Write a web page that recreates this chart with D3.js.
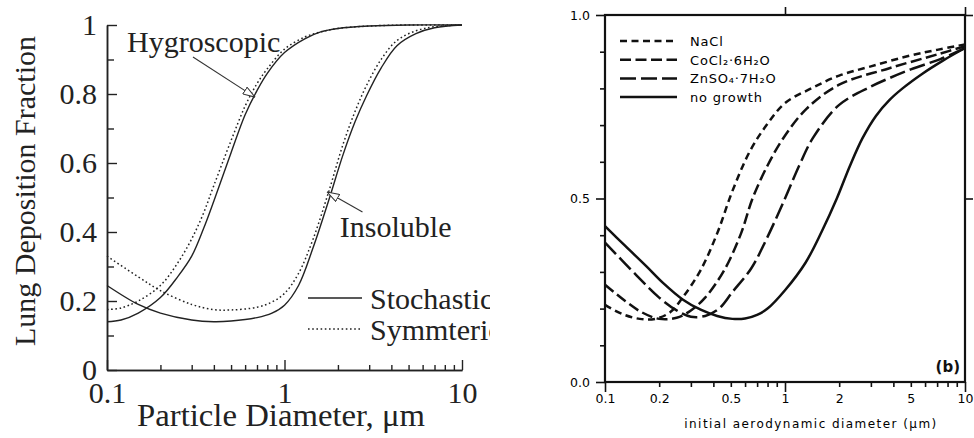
<!DOCTYPE html>
<html>
<head>
<meta charset="utf-8">
<script src="https://cdn.jsdelivr.net/npm/d3@7"></script>
<style>
  body { margin: 0; background: #fff; }
  svg { display: block; }
</style>
</head>
<body>
<div id="chart"></div>
<script>
// ---- left panel data (particle diameter in um, deposition fraction) ----
const hygroDiam = [0.1, 0.12, 0.15, 0.2, 0.25, 0.3, 0.35, 0.4, 0.5, 0.6, 0.7, 0.8, 1, 1.3, 1.6, 2, 3, 5, 10];
const hygroStochastic = [0.14, 0.145, 0.165, 0.21, 0.27, 0.33, 0.41, 0.49, 0.63, 0.74, 0.81, 0.86, 0.92, 0.96, 0.98, 0.99, 0.997, 1.0, 1.0];
const hygroSymmetric = [0.175, 0.18, 0.2, 0.245, 0.31, 0.38, 0.455, 0.535, 0.665, 0.765, 0.83, 0.873, 0.93, 0.965, 0.98, 0.99, 0.997, 1.0, 1.0];

const insolDiam = [0.1, 0.15, 0.2, 0.3, 0.4, 0.5, 0.7, 0.85, 1, 1.2, 1.45, 1.77, 2.14, 2.5, 2.9, 3.5, 4.3, 5.5, 7, 10];
const insolStochastic = [0.245, 0.19, 0.165, 0.145, 0.14, 0.142, 0.152, 0.165, 0.188, 0.245, 0.355, 0.49, 0.625, 0.72, 0.795, 0.875, 0.94, 0.975, 0.992, 1.0];
const insolSymmetric = [0.33, 0.27, 0.23, 0.19, 0.175, 0.174, 0.182, 0.197, 0.222, 0.28, 0.38, 0.515, 0.655, 0.75, 0.825, 0.9, 0.955, 0.983, 0.995, 1.0];

const leftXTicks = [0.1, 1, 10];
const leftXLabels = ["0.1", "1", "10"];
const leftXMinor = [0.2, 0.3, 0.4, 0.5, 0.6, 0.7, 0.8, 0.9, 2, 3, 4, 5, 6, 7, 8, 9];
const leftYTicks = [0, 0.2, 0.4, 0.6, 0.8, 1];
const leftYLabels = ["0", "0.2", "0.4", "0.6", "0.8", "1"];
const leftYMinor = [0.1, 0.3, 0.5, 0.7, 0.9];
const leftLegend = ["Stochastic", "Symmteric"];

// annotation: label position and arrow from/to, in data units
const leftNotes = [
  {text: "Hygroscopic", tx: 0.1297, ty: 0.922, x1: 0.305, y1: 0.907, x2: 0.682, y2: 0.791},
  {text: "Insoluble", tx: 2.05, ty: 0.386, x1: 2.75, y1: 0.458, x2: 1.74, y2: 0.516}
];

// ---- right panel data ----
const naclDiam = [0.1, 0.125, 0.156, 0.19, 0.23, 0.27, 0.34, 0.42, 0.51, 0.64, 0.79, 1, 1.4, 2, 3, 5, 7, 10];
const naclFrac = [0.21, 0.185, 0.172, 0.172, 0.19, 0.23, 0.305, 0.405, 0.52, 0.63, 0.7, 0.76, 0.8, 0.835, 0.86, 0.89, 0.905, 0.92];

const coclDiam = [0.1, 0.13, 0.16, 0.2, 0.25, 0.3, 0.36, 0.46, 0.57, 0.66, 0.8, 0.98, 1.32, 2, 3.8, 7.3, 10];
const coclFrac = [0.265, 0.22, 0.19, 0.172, 0.175, 0.195, 0.23, 0.305, 0.405, 0.5, 0.59, 0.665, 0.745, 0.81, 0.855, 0.895, 0.915];

const znsoDiam = [0.1, 0.15, 0.2, 0.25, 0.3, 0.36, 0.43, 0.51, 0.65, 0.79, 1.0, 1.2, 1.43, 2, 3, 3.8, 5, 7.3, 10];
const znsoFrac = [0.38, 0.29, 0.23, 0.195, 0.178, 0.18, 0.2, 0.245, 0.31, 0.39, 0.5, 0.59, 0.665, 0.755, 0.805, 0.828, 0.852, 0.88, 0.91];

const noGrowthDiam = [0.1, 0.13, 0.17, 0.21, 0.27, 0.34, 0.42, 0.51, 0.6, 0.7, 0.8, 1, 1.3, 1.6, 1.94, 2.3, 2.7, 3.2, 3.8, 4.5, 5.8, 7.5, 10];
const noGrowthFrac = [0.425, 0.37, 0.315, 0.27, 0.225, 0.197, 0.18, 0.172, 0.173, 0.183, 0.2, 0.25, 0.325, 0.41, 0.5, 0.59, 0.665, 0.725, 0.768, 0.8, 0.84, 0.875, 0.91];

const rightNames = ["NaCl", "CoCl\u2082\u00b76H\u2082O", "ZnSO\u2084\u00b77H\u2082O", "no growth"];
const rightXTicks = [0.1, 0.2, 0.5, 1, 2, 5, 10];
const rightXLabels = ["0.1", "0.2", "0.5", "1", "2", "5", "10"];
const rightXDecades = [0.1, 1, 10];
const rightXMinor = [0.2, 0.3, 0.4, 0.5, 0.6, 0.7, 0.8, 0.9, 2, 3, 4, 5, 6, 7, 8, 9];
const rightYTicks = [0, 0.5, 1];
const rightYLabels = ["0.0", "0.5", "1.0"];
const rightYMinor = [0.1, 0.2, 0.3, 0.4, 0.6, 0.7, 0.8, 0.9];

const width = 974, height = 438;
const serif = "'Liberation Serif', 'Times New Roman', serif";
const sans = "'DejaVu Sans', sans-serif";

const svg = d3.select("#chart").append("svg")
  .attr("width", width)
  .attr("height", height);

const defs = svg.append("defs");
defs.append("clipPath").attr("id", "leftClip")
  .append("rect").attr("x", 0).attr("y", 0).attr("width", 490).attr("height", height);

defs.append("marker")
  .attr("id", "openArrow")
  .attr("viewBox", "0 0 13 9")
  .attr("refX", 12.5).attr("refY", 4.5)
  .attr("markerWidth", 13).attr("markerHeight", 9)
  .attr("markerUnits", "userSpaceOnUse")
  .attr("orient", "auto")
  .append("path")
  .attr("d", "M0.5,0.5 L12.5,4.5 L0.5,8.5 Z")
  .attr("fill", "#fff")
  .attr("stroke", "#333")
  .attr("stroke-width", 1);

// ================= LEFT PANEL =================
const left = svg.append("g").attr("clip-path", "url(#leftClip)");

const xL = d3.scaleLog().domain([0.1, 10]).range([107, 462]);
const yL = d3.scaleLinear().domain([0, 1]).range([370, 25]);

const styleAxisL = g => {
  g.select(".domain").attr("stroke", "#222").attr("stroke-width", 1.5);
  g.selectAll(".tick line").attr("stroke", "#222").attr("stroke-width", 1.4);
  g.selectAll("text").attr("font-family", serif).attr("font-size", 30).attr("fill", "#222");
};

left.append("g")
  .attr("transform", "translate(107,0)")
  .call(d3.axisLeft(yL).tickValues(leftYMinor).tickSize(-7).tickSizeOuter(0).tickFormat(""))
  .call(styleAxisL);
left.append("g")
  .attr("transform", "translate(107,0)")
  .call(d3.axisLeft(yL).tickValues(leftYTicks).tickSize(-10).tickSizeOuter(0).tickPadding(10)
    .tickFormat((d, i) => leftYLabels[i]))
  .call(styleAxisL);

left.append("g")
  .attr("transform", "translate(0,370)")
  .call(d3.axisBottom(xL).tickValues(leftXMinor).tickSize(-5).tickSizeOuter(0).tickFormat(""))
  .call(styleAxisL);
left.append("g")
  .attr("transform", "translate(0,370)")
  .call(d3.axisBottom(xL).tickValues(leftXTicks).tickSize(-10).tickSizeOuter(0).tickPadding(12)
    .tickFormat((d, i) => leftXLabels[i]))
  .call(styleAxisL);

left.append("text")
  .attr("x", 281).attr("y", 426)
  .attr("text-anchor", "middle")
  .attr("font-family", serif).attr("font-size", 31).attr("fill", "#222")
  .attr("textLength", 288).attr("lengthAdjust", "spacingAndGlyphs")
  .text("Particle Diameter, \u03bcm");

left.append("text")
  .attr("transform", "translate(35,191) rotate(-90)")
  .attr("text-anchor", "middle")
  .attr("font-family", serif).attr("font-size", 30).attr("fill", "#222")
  .text("Lung Deposition Fraction");

const lineL = d3.line()
  .x(d => xL(d[0]))
  .y(d => yL(d[1]))
  .curve(d3.curveCatmullRom.alpha(0.5));

const leftCurves = [
  {x: hygroDiam, y: hygroStochastic, dash: null},
  {x: hygroDiam, y: hygroSymmetric, dash: "1.6,2.6"},
  {x: insolDiam, y: insolStochastic, dash: null},
  {x: insolDiam, y: insolSymmetric, dash: "1.6,2.6"}
];

leftCurves.forEach(c => {
  left.append("path")
    .attr("d", lineL(d3.zip(c.x, c.y)))
    .attr("fill", "none")
    .attr("stroke", "#222")
    .attr("stroke-width", c.dash ? 1.5 : 1.4)
    .attr("stroke-dasharray", c.dash);
});

leftNotes.forEach(n => {
  left.append("line")
    .attr("x1", xL(n.x1)).attr("y1", yL(n.y1))
    .attr("x2", xL(n.x2)).attr("y2", yL(n.y2))
    .attr("stroke", "#333").attr("stroke-width", 1.1)
    .attr("marker-end", "url(#openArrow)");
  left.append("text")
    .attr("x", xL(n.tx)).attr("y", yL(n.ty))
    .attr("font-family", serif).attr("font-size", 30).attr("fill", "#222")
    .text(n.text);
});

// legend
leftLegend.forEach((name, i) => {
  const ly = 298 + i * 31;
  left.append("line")
    .attr("x1", 308).attr("x2", 362)
    .attr("y1", ly).attr("y2", ly)
    .attr("stroke", "#222")
    .attr("stroke-width", i == 0 ? 1.4 : 1.3)
    .attr("stroke-dasharray", i == 0 ? null : "1.6,2.6");
  left.append("text")
    .attr("x", 370).attr("y", ly + 11)
    .attr("font-family", serif).attr("font-size", 30).attr("fill", "#222")
    .text(name);
});

// ================= RIGHT PANEL =================
const right = svg.append("g");

const xR = d3.scaleLog().domain([0.1, 10]).range([605, 965]);
const yR = d3.scaleLinear().domain([0, 1]).range([382, 15]);

const styleAxisR = g => {
  g.select(".domain").remove();
  g.selectAll(".tick line").attr("stroke", "#111").attr("stroke-width", 1.6);
  g.selectAll("text").attr("font-family", sans).attr("font-size", 12.5).attr("fill", "#000");
};

right.append("g").attr("transform", "translate(605,0)")
  .call(d3.axisLeft(yR).tickValues(rightYMinor).tickSize(5).tickFormat(""))
  .call(styleAxisR);
right.append("g").attr("transform", "translate(605,0)")
  .call(d3.axisLeft(yR).tickValues(rightYTicks).tickSize(9).tickPadding(6)
    .tickFormat((d, i) => rightYLabels[i]))
  .call(styleAxisR);
right.append("g").attr("transform", "translate(965,0)")
  .call(d3.axisRight(yR).tickValues([0.5, 1]).tickSize(8).tickFormat(""))
  .call(styleAxisR);

right.append("g").attr("transform", "translate(0,382)")
  .call(d3.axisBottom(xR).tickValues(rightXMinor).tickSize(5).tickFormat(""))
  .call(styleAxisR);
right.append("g").attr("transform", "translate(0,382)")
  .call(d3.axisBottom(xR).tickValues(rightXDecades).tickSize(10).tickFormat(""))
  .call(styleAxisR);
right.append("g").attr("transform", "translate(0,382)")
  .call(d3.axisBottom(xR).tickValues(rightXTicks).tickSize(0).tickPadding(12)
    .tickFormat((d, i) => rightXLabels[i]))
  .call(styleAxisR);
right.append("g").attr("transform", "translate(0,15)")
  .call(d3.axisTop(xR).tickValues([1, 10]).tickSize(8).tickFormat(""))
  .call(styleAxisR);

right.append("rect")
  .attr("x", 605).attr("y", 15)
  .attr("width", 360).attr("height", 367)
  .attr("fill", "none")
  .attr("stroke", "#111")
  .attr("stroke-width", 2.2);

right.append("text")
  .attr("x", 811).attr("y", 428)
  .attr("text-anchor", "middle")
  .attr("font-family", sans).attr("font-size", 12).attr("fill", "#000")
  .style("letter-spacing", "1.45px")
  .text("initial aerodynamic diameter  (\u03bcm)");

right.append("text")
  .attr("x", 960).attr("y", 372)
  .attr("text-anchor", "end")
  .attr("font-family", sans).attr("font-size", 15).attr("font-weight", "bold").attr("fill", "#111")
  .text("(b)");

const lineR = d3.line()
  .x(d => xR(d[0]))
  .y(d => yR(d[1]))
  .curve(d3.curveCatmullRom.alpha(0.5));

const rightCurves = [
  {x: naclDiam, y: naclFrac, dash: "7,4.5"},
  {x: coclDiam, y: coclFrac, dash: "11,4.5"},
  {x: znsoDiam, y: znsoFrac, dash: "16,5"},
  {x: noGrowthDiam, y: noGrowthFrac, dash: null}
];

rightCurves.forEach((c, i) => {
  right.append("path")
    .attr("d", lineR(d3.zip(c.x, c.y)))
    .attr("fill", "none")
    .attr("stroke", "#111")
    .attr("stroke-width", 2.5)
    .attr("stroke-dasharray", c.dash);

  const ly = 41 + i * 18.7;
  right.append("line")
    .attr("x1", 620).attr("x2", 677)
    .attr("y1", ly).attr("y2", ly)
    .attr("stroke", "#111")
    .attr("stroke-width", 2.5)
    .attr("stroke-dasharray", c.dash);
  right.append("text")
    .attr("x", 690).attr("y", ly + 5)
    .attr("font-family", sans).attr("font-size", 13).attr("fill", "#000")
    .style("letter-spacing", "0.8px")
    .text(rightNames[i]);
});
</script>
</body>
</html>
